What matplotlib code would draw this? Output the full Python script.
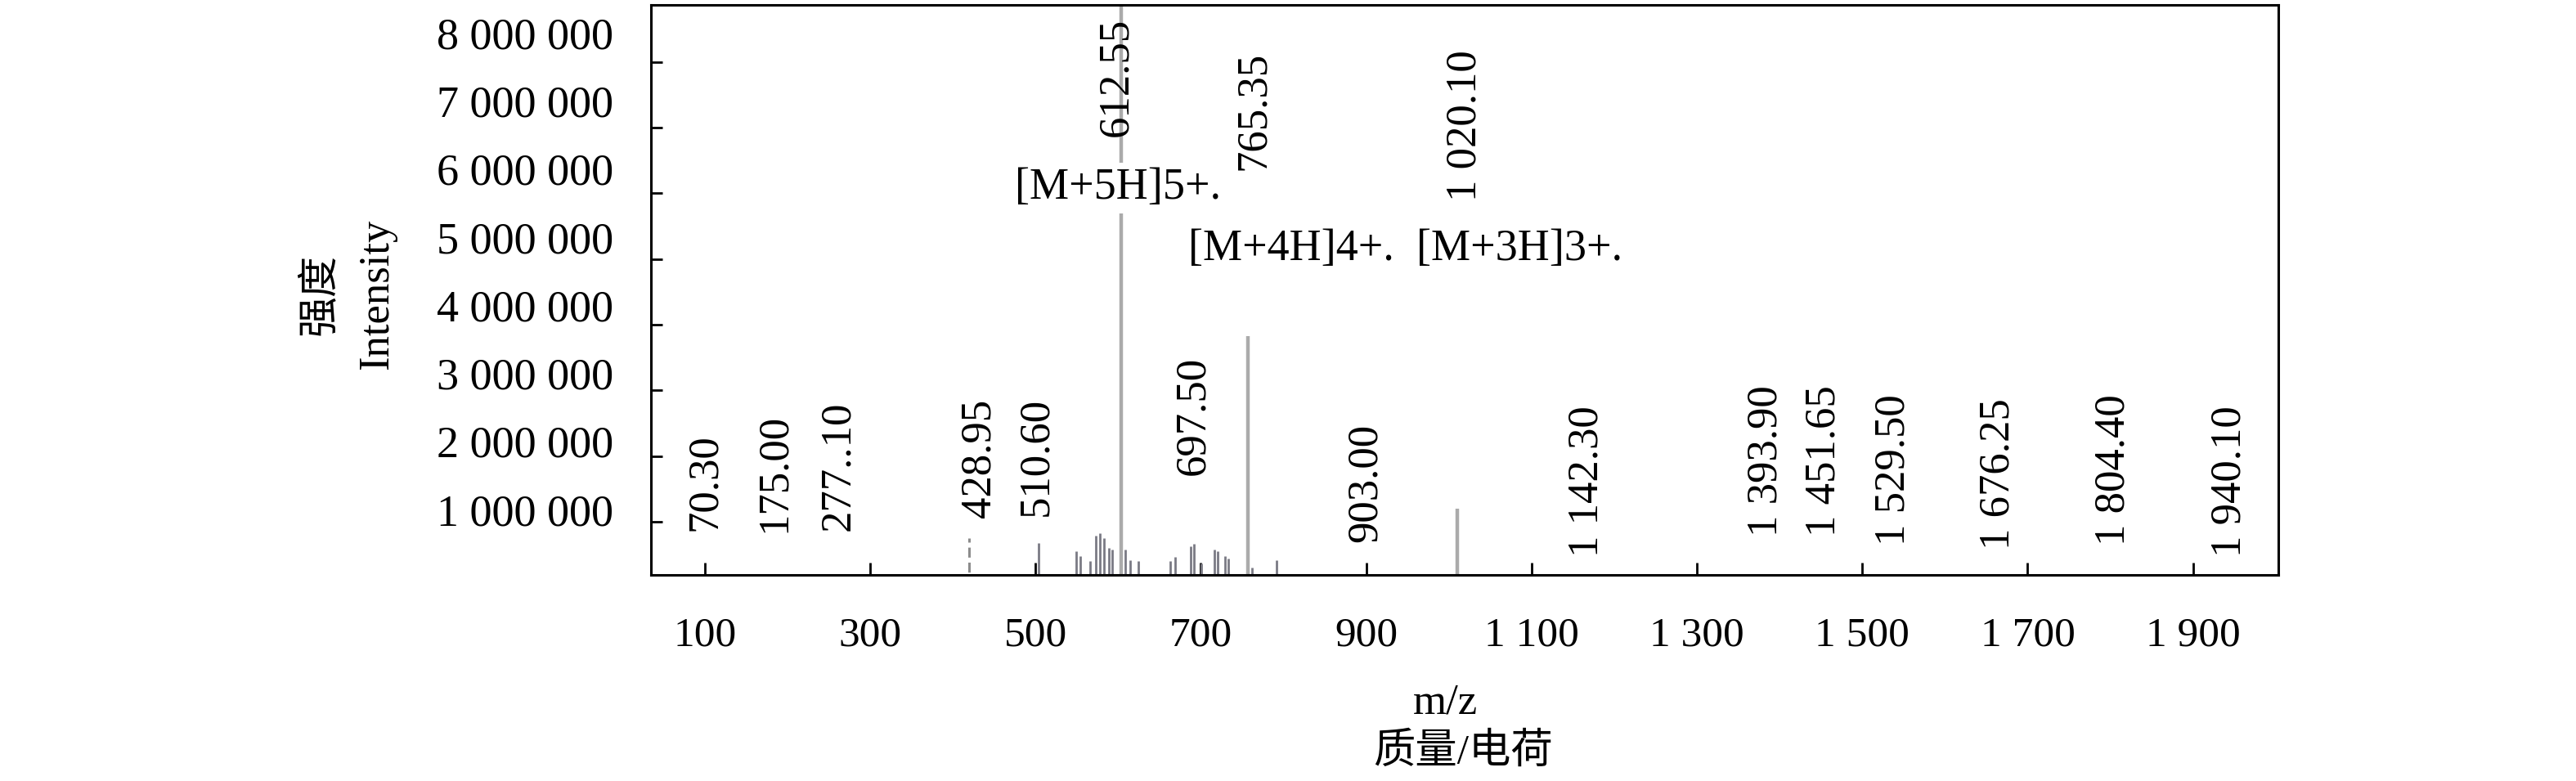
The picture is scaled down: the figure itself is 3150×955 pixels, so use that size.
import matplotlib
matplotlib.use('Agg')
import matplotlib.pyplot as plt
from matplotlib.transforms import ScaledTranslation

plt.rcParams['font.family'] = ['Liberation Serif', 'Noto Sans CJK SC']

# small peaks (m/z, intensity)
minor_mz = [420, 504, 549, 554, 566, 573, 578, 583, 589, 593, 609, 615, 624,
            663, 669, 688, 692, 701, 716, 720, 729, 733, 762, 792]
minor_int = [0.75e6, 0.68e6, 0.55e6, 0.48e6, 0.40e6, 0.79e6, 0.82e6, 0.75e6,
             0.60e6, 0.58e6, 0.58e6, 0.42e6, 0.40e6, 0.40e6, 0.46e6, 0.63e6,
             0.66e6, 0.36e6, 0.57e6, 0.55e6, 0.48e6, 0.44e6, 0.30e6, 0.42e6]

# the three charge-state peaks
major_mz = [604, 757, 1010]
major_int = [8.9e6, 3.83e6, 1.2e6]

peak_labels = ['70.30', '175.00', '277..10', '428.95', '510.60', '612.55', '697.50',
               '765.35', '903.00', '1 020.10', '1 142.30', '1 393.90', '1 451.65',
               '1 529.50', '1 676.25', '1 804.40', '1 940.10']
label_x = [100, 184, 262, 432, 501, 598, 691, 764, 899, 1020, 1167, 1384, 1454,
           1538, 1664, 1804, 1944]
label_y = [0.86e6, 0.84e6, 0.86e6, 1.06e6, 1.09e6, 6.87e6, 1.71e6, 6.35e6, 0.69e6,
           5.88e6, 0.46e6, 0.78e6, 0.78e6, 0.64e6, 0.58e6, 0.64e6, 0.46e6]

ions = ['[M+5H]5+.', '[M+4H]4+.', '[M+3H]3+.']
ion_x = [600, 809, 1085]
ion_y = [6.08e6, 5.15e6, 5.15e6]

xticks = list(range(100, 2000, 200))
xtick_labels = ['100', '300', '500', '700', '900', '1 100', '1 300', '1 500', '1 700', '1 900']
yticks = [1e6, 2e6, 3e6, 4e6, 5e6, 6e6, 7e6, 8e6]
ytick_labels = ['1 000 000', '2 000 000', '3 000 000', '4 000 000',
                '5 000 000', '6 000 000', '7 000 000', '8 000 000']

fig = plt.figure(figsize=(31.5, 9.55), dpi=100)
ax = fig.add_axes([0.2527, 0.2639, 0.6317, 0.7298])

ax.vlines(minor_mz[:1], 0, minor_int[:1], color='#8c8c8c', lw=2.2, linestyles=(0, (4, 2)))
ax.vlines(minor_mz[1:], 0, minor_int[1:], color='#7a7a84', lw=2.0)
ax.vlines(major_mz, 0, major_int, color='#ababab', lw=3.2)

for t, x, y in zip(peak_labels, label_x, label_y):
    ax.text(x, y, t, rotation=90, ha='center', va='bottom', fontsize=38)

for i, (t, x, y) in enumerate(zip(ions, ion_x, ion_y)):
    bb = dict(facecolor='white', edgecolor='none', pad=4) if i == 0 else None
    ax.text(x, y, t, ha='center', va='center', fontsize=39, bbox=bb)

ax.set_xlim(35, 2003)
ax.set_ylim(0.19e6, 8.87e6)
ax.set_xticks(xticks)
ax.set_xticklabels(xtick_labels)
ax.set_yticks(yticks)
ax.set_yticklabels(ytick_labels)
ax.tick_params(axis='x', direction='in', length=11, width=2, pad=37, labelsize=37)
ax.tick_params(axis='y', direction='in', length=10, width=2, pad=33, labelsize=39)
for s in ax.spines.values():
    s.set_linewidth(2.2)

# tick labels sit a little above their ticks in the original
for i, lab in enumerate(ax.get_yticklabels()):
    dy = (15 + 3 * i) / 100
    lab.set_transform(lab.get_transform() + ScaledTranslation(0, dy, fig.dpi_scale_trans))

fig.text(0.1244, 0.623, '强度', rotation=90, ha='center', va='center', fontsize=36)
fig.text(0.1465, 0.623, 'Intensity', rotation=90, ha='center', va='center', fontsize=38)
fig.text(0.561, 0.0995, 'm/z', ha='center', va='center', fontsize=38)
fig.text(0.568, 0.0366, '质量/电荷', ha='center', va='center', fontsize=37)

fig.savefig('out.png', dpi=100)
